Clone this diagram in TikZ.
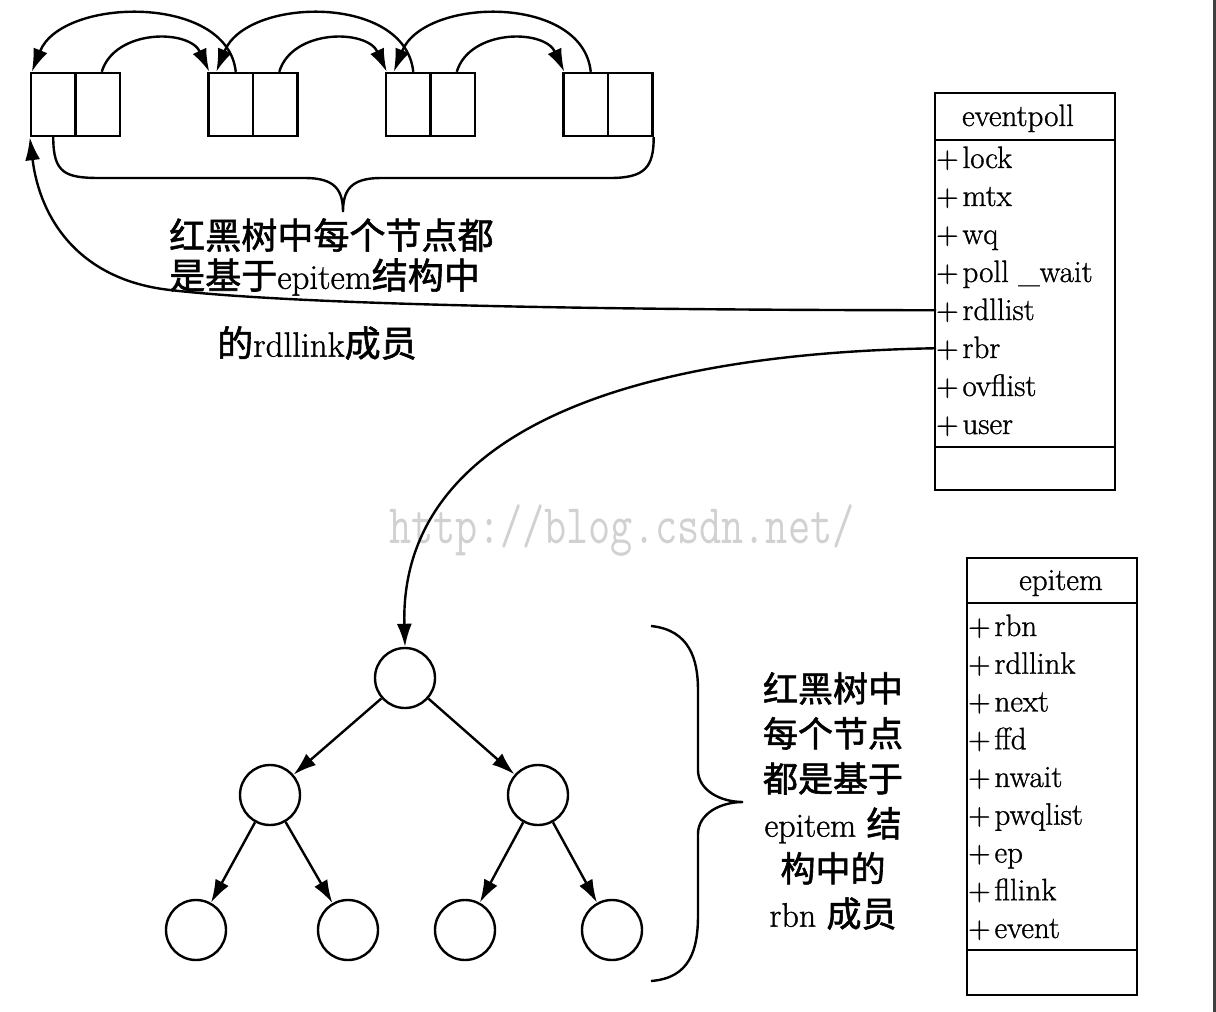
\documentclass[tikz,border=0pt]{standalone}
\usepackage{fontspec}
\setmainfont{Latin Modern Roman}[FakeBold=1]
\newfontfamily\cjk{Noto Sans CJK SC}[FakeBold=1.6,Scale=1.03]
\newcommand\zhtxt[1]{{\cjk #1}}
\usetikzlibrary{arrows.meta,calc}
\tikzset{
  ln/.style={line width=2.4pt},
  cell/.style={draw,ln,minimum width=44.5pt,minimum height=63pt,inner sep=0pt},
  tnode/.style={draw,ln,circle,minimum size=60pt,inner sep=0pt},
  arr/.style={ln,-{Latex[length=23pt,width=15pt]}},
  item/.style={anchor=base west,inner sep=0pt,font=\fontsize{31}{36}\selectfont},
  ttl/.style={anchor=base,inner sep=0pt,font=\fontsize{31}{36}\selectfont},
}
\begin{document}
\begin{tikzpicture}[x=1pt,y=-1pt]
\useasboundingbox (0,0) rectangle (1216,1012);
\fill[white] (0,0) rectangle (1216,1012);
\fill[black!75] (1213,0) rectangle (1216,1012);

% watermark
\node[text=black!18,font=\ttfamily\fontsize{43}{43}\selectfont,inner sep=0pt] (wm) at (622,530) {\scalebox{1}[1.3]{http://blog.csdn.net/}};

% linked list boxes
\foreach \i in {1,2,3,4}{
  \pgfmathsetmacro\bx{31+177.5*(\i-1)}
  \node[cell] (b\i l) at (\bx+22.25,104.5) {};
  \node[cell] (b\i r) at (\bx+66.75,104.5) {};
}
% small arcs (next)
\foreach \i/\j in {1/2,2/3,3/4}{
  \draw[arr] ([xshift=4pt]b\i r.north) .. controls +(13,-43) and +(-20,-43) .. ([xshift=2pt]b\j l.north west);
}
% big arcs (prev)
\draw[arr] ([xshift=5pt]b2l.north) .. controls +(-8,-78) and +(30,-75) .. ([xshift=2pt]b1l.north west);
\foreach \i/\j in {3/2,4/3}{
  \draw[arr] ([xshift=5pt]b\i l.north) .. controls +(-8,-78) and +(30,-75) .. ([xshift=9pt]b\j l.north west);
}
% top brace
\coordinate (tb) at (343,212);
\draw[ln] (b1l.south) .. controls +(0,36) and +(-35,0) .. (100,178) -- (305,178)
   .. controls (335,178) and (343,190) .. (tb)
   .. controls (343,190) and (351,178) .. (381,178) -- (610,178)
   .. controls +(35,0) and +(0,30) .. (b4r.south east);

% top text
\node[anchor=west,align=left,inner sep=0pt,font=\fontsize{35}{40}\selectfont] (t12) at (169,257)
  {\zhtxt{红黑树中每个节点都}\\\zhtxt{是基于}epitem\zhtxt{结构中}};
\node[anchor=west,inner sep=0pt,font=\fontsize{35}{40}\selectfont] (t3) at (217,343)
  {\zhtxt{的}rdllink\zhtxt{成员}};

% eventpoll box
\coordinate (epnw) at (935,93);
\coordinate (epse) at (1115,490);
\draw[ln] (epnw) rectangle (epse);
\draw[ln] (935,140) -- (1115,140);
\draw[ln] (935,447) -- (1115,447);
\node[ttl] (eptitle) at (1018,126) {eventpoll};
\foreach \n/\t [count=\k] in {lock/lock,mtx/mtx,wq/wq,pollwait/poll \_wait,rdllist/rdllist,rbr/rbr,ovflist/ovflist,user/user}{
  \node[item] (ep-\n) at (936,{168+38*(\k-1)}) {+\kern4pt\relax\t};
}

% epitem box
\coordinate (einw) at (967,558);
\coordinate (eise) at (1137,995);
\draw[ln] (einw) rectangle (eise);
\draw[ln] (967,603) -- (1137,603);
\draw[ln] (967,950) -- (1137,950);
\node[ttl] (eititle) at (1061,590) {epitem};
\foreach \n [count=\k] in {rbn,rdllink,next,ffd,nwait,pwqlist,ep,fllink,event}{
  \node[item] (ei-\n) at (968,{636+37.75*(\k-1)}) {+\kern4pt\relax\n};
}

% tree
\node[tnode] (root) at (405,678) {};
\node[tnode] (L) at (270,795) {};
\node[tnode] (R) at (538,795) {};
\node[tnode] (LL) at (196,930) {};
\node[tnode] (LR) at (348,930) {};
\node[tnode] (RL) at (465,930) {};
\node[tnode] (RR) at (612,930) {};
\draw[arr] (root) -- (L);
\draw[arr] (root) -- (R);
\draw[arr] (L) -- (LL);
\draw[arr] (L) -- (LR);
\draw[arr] (R) -- (RL);
\draw[arr] (R) -- (RR);

% connectors from eventpoll
\coordinate (rdlmid) at (170,290);
\draw[arr] (ep-rdllist.west) .. controls (600,310) and (300,305) .. (rdlmid)
   .. controls (80,280) and (40,220) .. (b1l.south west);
\draw[arr] (ep-rbr.west) .. controls (550,355) and (400,470) .. (root.north);

% right brace
\coordinate (rbtip) at (743,802);
\draw[ln] (651,626) .. controls (690,630) and (698,660) .. (698,690) -- (698,770)
   .. controls (698,790) and (720,802) .. (rbtip)
   .. controls (720,802) and (698,814) .. (698,834) -- (698,915)
   .. controls (698,950) and (690,978) .. (651,981);

% right text
\node[align=center,inner sep=0pt,font=\fontsize{34}{45}\selectfont] (rt) at (833,801)
  {\zhtxt{红黑树中}\\\zhtxt{每个节点}\\\zhtxt{都是基于}\\epitem\ \zhtxt{结}\\\zhtxt{构中的}\\rbn \zhtxt{成员}};
\end{tikzpicture}
\end{document}
